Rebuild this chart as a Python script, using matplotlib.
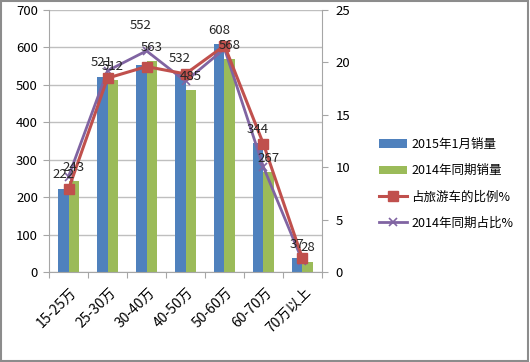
import matplotlib
matplotlib.use("Agg")
import matplotlib.pyplot as plt
import matplotlib.transforms as mtransforms
import numpy as np

plt.rcParams["font.family"] = ["Noto Sans CJK SC", "DejaVu Sans"]

# ── Data ─────────────────────────────────────────────────────────────────────
categories = ["15-25万", "25-30万", "30-40万", "40-50万", "50-60万", "60-70万", "70万以上"]
sales_2015 = [222, 521, 552, 532, 608, 344, 37]
sales_2014 = [243, 512, 563, 485, 568, 267, 28]
share_2015 = [7.9, 18.5, 19.6, 18.9, 21.6, 12.2, 1.3]
share_2014 = [9.1, 19.2, 21.1, 18.2, 21.3, 10.0, 1.05]

BLUE = "#4F81BD"
GREEN = "#9BBB59"
RED = "#C0504D"
PURPLE = "#8064A2"
GRID = "#BFBFBF"
AXIS = "#A6A6A6"

fig = plt.figure(figsize=(5.3, 3.62), dpi=100)
ax = fig.add_axes([0.0925, 0.2486, 0.515, 0.7238])
ax2 = ax.twinx()

x = np.arange(len(categories))
w = 0.28

b1 = ax.bar(x - w / 2, sales_2015, w, color=BLUE, label="2015年1月销量", zorder=2)
b2 = ax.bar(x + w / 2, sales_2014, w, color=GREEN, label="2014年同期销量", zorder=2)

ax.set_xlim(-0.5, len(categories) - 0.5)
ax.set_ylim(0, 700)
ax.set_yticks(range(0, 701, 100))
ax.grid(True, axis="y", color=GRID, linewidth=1, zorder=0)
ax.set_axisbelow(True)

# category boundary ticks, labels centred between them
ax.set_xticks(np.arange(-0.5, len(categories)), minor=False)
ax.set_xticklabels([])
ax.set_xticks(x, minor=True)
ax.set_xticklabels(categories, minor=True, rotation=45, ha="right", va="center",
                   rotation_mode="anchor", fontsize=10)
ax.tick_params(axis="x", which="minor", length=0, pad=13)
ax.tick_params(axis="x", which="major", length=4, color=AXIS)
ax.tick_params(axis="y", length=4, color=AXIS, labelsize=9.5, pad=4)
shift = mtransforms.ScaledTranslation(6 / 100, 0, fig.dpi_scale_trans)
for lbl in ax.get_xticklabels(minor=True):
    lbl.set_transform(lbl.get_transform() + shift)

for s in ["top", "right"]:
    ax.spines[s].set_visible(False)
for s in ["left", "bottom"]:
    ax.spines[s].set_color(AXIS)

l1, = ax2.plot(x, share_2015, color=RED, linewidth=2.2, marker="s", markersize=7,
               markeredgecolor=RED, label="占旅游车的比例%", zorder=4)
l2, = ax2.plot(x, share_2014, color=PURPLE, linewidth=2, marker="x", markersize=6,
               markeredgewidth=1.2, label="2014年同期占比%", zorder=3)
ax2.set_ylim(0, 25)
ax2.set_yticks(range(0, 26, 5))
ax2.tick_params(axis="y", length=4, color=AXIS, labelsize=9.5, pad=6)
for s in ["top", "left", "bottom"]:
    ax2.spines[s].set_visible(False)
ax2.spines["right"].set_color(AXIS)

# bar value labels
offsets_2015 = [14, 14, 40, 14, 14, 14, 14]
for xi, v, off in zip(x, sales_2015, offsets_2015):
    ax2.annotate(str(v), xy=(xi - w / 2, v), xycoords=ax.transData,
                 xytext=(0, off), textcoords="offset pixels",
                 ha="center", va="center", fontsize=9.5, color="#262626", zorder=5)
for xi, v in zip(x, sales_2014):
    ax2.annotate(str(v), xy=(xi + w / 2, v), xycoords=ax.transData,
                 xytext=(0, 14), textcoords="offset pixels",
                 ha="center", va="center", fontsize=9.5, color="#262626", zorder=5)

fig.legend(handles=[b1, b2, l1, l2], loc="upper left", bbox_to_anchor=(0.705, 0.632),
           frameon=False, fontsize=9, handlelength=2.3, labelspacing=1.05,
           handletextpad=0.3, borderaxespad=0)

fig.patches.append(plt.Rectangle((0.002, 0.003), 0.995, 0.993, transform=fig.transFigure,
                                 fill=False, edgecolor="#8C8C8C", linewidth=1.5))

fig.savefig("out.png", dpi=100)
